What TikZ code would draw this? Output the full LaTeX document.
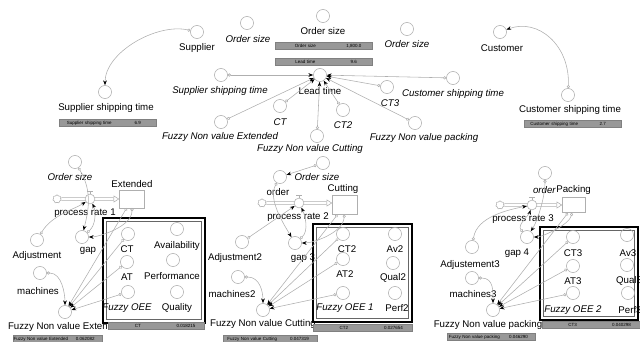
\documentclass[tikz,border=0pt]{standalone}
\usepackage{fontspec}
\setmainfont{Liberation Sans}
\usetikzlibrary{positioning,arrows.meta,shapes.symbols}
\definecolor{VenGray}{RGB}{175,175,175}
\definecolor{BoxGray}{RGB}{152,152,152}

\tikzset{
  var/.style={circle, draw=VenGray, line width=0.4pt, minimum size=9.3pt, inner sep=0pt},
  txt/.style={font=\fontsize{6.9}{8}\selectfont, inner sep=0pt},
  shadow/.style={font=\fontsize{6.9}{8}\selectfont\itshape, inner sep=0pt},
  link/.style={draw=VenGray, line width=0.4pt,
    {Circle[open,length=2.2pt,width=2.2pt]}-{Stealth[length=3.4pt,width=2.6pt,color=black]}},
  pipe/.style={draw=VenGray, double=white, double distance=1.4pt, line width=0.4pt,
    -{Triangle[open,length=4pt,width=5pt]}},
  valve/.style={circle, draw=VenGray, fill=white, minimum size=7pt, inner sep=0pt},
  source/.style={cloud, cloud puffs=7, draw=VenGray, minimum width=6pt, minimum height=6pt, inner sep=0pt},
  stock/.style={rectangle, draw=VenGray, fill=white, inner sep=0pt},
  readbox/.style={fill=BoxGray, draw=gray, line width=0.3pt, inner xsep=0pt, inner ysep=0.9pt,
    font=\fontsize{3.2}{3.6}\selectfont, anchor=west, minimum height=5pt},
  panel/.style={draw=black, line width=1.4pt},
  panelin/.style={draw=gray!80!black, line width=0.5pt}
}
% gray read-out box: name, left x, y, width, label, value
\newcommand{\readout}[6]{%
  \node[readbox, text width=#4] (#1) at (#2,#3)
    {\noindent\makebox[.62\hsize]{#5}\makebox[.38\hsize]{#6}};}

\begin{document}
\begin{tikzpicture}[x=0.025cm, y=-0.025cm]
\useasboundingbox (0,0) rectangle (640,342);

% ---- lead time part
\node[var] (osTop) at (323,16) {};
\node[txt] (osTop-l) at (323,31) {Order size};
\readout{ordbox}{275}{46}{69pt}{Order size}{1,800.0}
\readout{leadbox}{275}{62}{69pt}{Lead time}{9.6}
\node[var] (lead) at (320,75) {};
\node[txt] (lead-l) at (320,91) {Lead time};

\node[var] (osL) at (247,23) {};
\node[shadow] (osL-l) at (248,39) {Order size};
\node[var] (osR) at (407,29) {};
\node[shadow] (osR-l) at (407,44) {Order size};

\node[var] (sup) at (197,32) {};
\node[txt] (sup-l) at (197,48) {Supplier};
\node[var] (sst) at (105,92) {};
\node[txt] (sst-l) at (106,108) {Supplier shipping time};
\readout{sstbox}{59}{123}{69pt}{Supplier shipping time}{6.9}

\node[var] (cus) at (500,32) {};
\node[txt] (cus-l) at (502,48) {Customer};
\node[var] (cst) at (568,95) {};
\node[txt] (cst-l) at (570,110) {Customer shipping time};
\readout{cstbox}{524}{124}{69pt}{Customer shipping time}{2.7}

\draw[link] (sup) .. controls +(-40,-9) and +(0,-40) .. (sst);
\draw[link] (cst) .. controls +(2,-50) and +(38,-14) .. (cus);

% shadow variables feeding lead time
\foreach \nm/\cx/\cy/\lx/\ly/\txt in {
    sstI/221/75/220/91/Supplier shipping time,
    ctI/280/106/280/122/CT,
    fnveI/221/122/220/137/Fuzzy Non value Extended,
    fnvcI/317/136/310/149/Fuzzy Non value Cutting,
    ct2I/343/110/343/125/CT2,
    ct3I/387/87/390/103/CT3,
    fnvpI/415/123/424/138/Fuzzy Non value packing,
    cstI/453/78/453/94/Customer shipping time} {
  \node[var] (\nm) at (\cx,\cy) {};
  \node[shadow] (\nm-l) at (\lx,\ly) {\txt};
  \draw[link] (\nm) -- (lead);
}

% ---- Extended
\node[var] (os1) at (75,162) {};
\node[shadow] (os1-l) at (70,177) {Order size};
\node[source] (src1) at (57,199) {};
\node[stock, minimum width=17.8pt, minimum height=12.5pt] (stock1) at (132,199) {};
\node[txt] (stock1-l) at (132,184) {Extended};
\draw[pipe] (src1) -- (stock1);
\node[valve] (v1) at (90,199) {};
\draw[VenGray] (v1.north) -- ++(0,-3) ++(-3,0) -- ++(6,0);
\node[txt] (v1-l) at (85,213) {process rate 1};
\node[var] (gap1) at (82,237) {};
\node[txt] (gap1-l) at (88,251) {gap};
\node[var] (adj1) at (37,240) {};
\node[txt] (adj1-l) at (37,256) {Adjustment};
\node[var] (mach1) at (40,273) {};
\node[txt] (mach1-l) at (38,291) {machines};
\node[var] (fnve) at (65,312) {};
\node[txt] (fnve-l) at (66,327) {Fuzzy Non value Extended};
\readout{fnvebox}{13}{339}{63.3pt}{Fuzzy Non value Extended}{0.062082}

\draw[panel] (103,218) rectangle (205,323);
\draw[panelin] (106.5,221.5) rectangle (201.5,319.5);
\foreach \nm/\cx/\cy/\lx/\ly/\txt in {
    ct1/128/234/127/249/CT, av1/177/229/177/246/Availability,
    at1/127/262/127/277/AT, pf1/173/260/172/276/Performance,
    qu1/177/292/177/308/Quality} {
  \node[var] (\nm) at (\cx,\cy) {};
  \node[txt] (\nm-l) at (\lx,\ly) {\txt};
}
\node[var] (oee1) at (128,292) {};
\node[shadow] (oee1-l) at (127,308) {Fuzzy OEE};
\readout{ct1box}{108}{326}{68.3pt}{CT}{0.018215}

\draw[link] (os1) .. controls +(18,30) and +(6,-25) .. (gap1);
\draw[link] (adj1) .. controls +(15,-25) and +(-15,10) .. (v1);
\draw[link] (gap1) .. controls +(14,-12) and +(6,12) .. (v1);
\draw[link] (stock1) .. controls +(0,28) and +(16,0) .. (gap1);
\draw[link] (mach1) .. controls +(22,0) and +(0,-18) .. (fnve);
\foreach \src in {stock1, ct1, at1, oee1}
  \draw[link] (\src) -- (fnve);

% ---- Cutting
\node[var] (os2) at (323,163) {};
\node[shadow] (os2-l) at (317,177) {Order size};
\node[var] (ord2) at (280,177) {};
\node[txt] (ord2-l) at (278,192) {order};
\node[source] (src2) at (262,203) {};
\node[stock, minimum width=17.8pt, minimum height=13.5pt] (stock2) at (345,205) {};
\node[txt] (stock2-l) at (343,189) {Cutting};
\draw[pipe] (src2) -- (stock2.west |- src2);
\node[valve] (v2) at (299,203) {};
\draw[VenGray] (v2.north) -- ++(0,-3) ++(-3,0) -- ++(6,0);
\node[txt] (v2-l) at (298,217) {process rate 2};
\node[var] (gap3) at (295,243) {};
\node[txt] (gap3-l) at (303,258) {gap 3};
\node[var] (adj2) at (242,242) {};
\node[txt] (adj2-l) at (235,258) {Adjustment2};
\node[var] (mach2) at (238,277) {};
\node[txt] (mach2-l) at (232,294) {machines2};
\node[var] (fnvc) at (263,310) {};
\node[txt] (fnvc-l) at (263,324) {Fuzzy Non value Cutting};
\readout{fnvcbox}{223}{339}{66.9pt}{Fuzzy Non value Cutting}{0.047319}

\draw[panel] (313,224) rectangle (412,322);
\draw[panelin] (316.5,227.5) rectangle (408.5,318.5);
\foreach \nm/\cx/\cy/\lx/\ly/\txt in {
    ct2/343/234/347/249/CT2, av2/395/234/395/249/Av2,
    at2/343/259/345/274/AT2, ql2/393/263/393/278/Qual2,
    pf2/395/293/397/308/Perf2} {
  \node[var] (\nm) at (\cx,\cy) {};
  \node[txt] (\nm-l) at (\lx,\ly) {\txt};
}
\node[var] (oee2) at (343,293) {};
\node[shadow] (oee2-l) at (345,308) {Fuzzy OEE 1};
\readout{ct2box}{313}{328}{70.4pt}{CT2}{0.027654}

\draw[link] (os2) -- (ord2);
\draw[link] (ord2) .. controls +(-12,22) and +(-12,-20) .. (gap3);
\draw[link] (adj2) -- (v2);
\draw[link] (gap3) .. controls +(14,-12) and +(6,12) .. (v2);
\draw[link] (stock2) .. controls +(-2,28) and +(18,0) .. (gap3);
\draw[link] (mach2) .. controls +(22,0) and +(0,-18) .. (fnvc);
\foreach \src in {stock2, ct2, at2, oee2}
  \draw[link] (\src) -- (fnvc);

% ---- Packing
\node[var] (ord3) at (545,173) {};
\node[shadow, anchor=east] (ord3-l) at (556,190) {order};
\node[txt, anchor=west] (stock3-l) at (556,190) {Packing};
\node[source] (src3) at (500,205) {};
\node[stock, minimum width=16.4pt, minimum height=11pt] (stock3) at (574,205) {};
\draw[pipe] (src3) -- (stock3);
\node[valve] (v3) at (532,205) {};
\draw[VenGray] (v3.north) -- ++(0,-3) ++(-3,0) -- ++(6,0);
\node[txt] (v3-l) at (523,219) {process rate 3};
\node[var] (gap4) at (527,237) {};
\node[txt] (gap4-l) at (517,253) {gap 4};
\node[var] (adj3) at (472,247) {};
\node[txt] (adj3-l) at (470,265) {Adjustement3};
\node[var] (mach3) at (472,278) {};
\node[txt] (mach3-l) at (473,294) {machines3};
\node[var] (fnvp) at (493,310) {};
\node[txt] (fnvp-l) at (488,325) {Fuzzy Non value packing};
\readout{fnvpbox}{447}{337}{62.6pt}{Fuzzy Non value packing}{0.046290}

\draw[panel] (540,227) rectangle (638,320);
\draw[panelin] (543.5,230.5) rectangle (634.5,316.5);
\foreach \nm/\cx/\cy/\lx/\ly/\txt in {
    ct3/573/237/573/253/CT3, av3/627/235/628/253/Av3,
    at3/573/266/573/281/AT3, ql3/627/265/629/281/Qual3,
    pf3/628/293/630/310/Perf3} {
  \node[var] (\nm) at (\cx,\cy) {};
  \node[txt] (\nm-l) at (\lx,\ly) {\txt};
}
\node[var] (oee3) at (573,293) {};
\node[shadow] (oee3-l) at (573,310) {Fuzzy OEE 2};
\readout{ct3box}{542}{325}{69.7pt}{CT3}{0.040298}

\draw[link] (ord3) .. controls +(0,25) and +(10,-15) .. (gap4);
\draw[link] (adj3) .. controls +(5,-30) and +(-25,5) .. (v3);
\draw[link] (gap4) .. controls +(-10,-12) and +(-3,10) .. (v3);
\draw[link] (stock3) .. controls +(-5,20) and +(15,0) .. (gap4);
\draw[link] (mach3) .. controls +(22,0) and +(0,-18) .. (fnvp);
\foreach \src in {stock3, ct3, at3, oee3}
  \draw[link] (\src) -- (fnvp);
\end{tikzpicture}
\end{document}
